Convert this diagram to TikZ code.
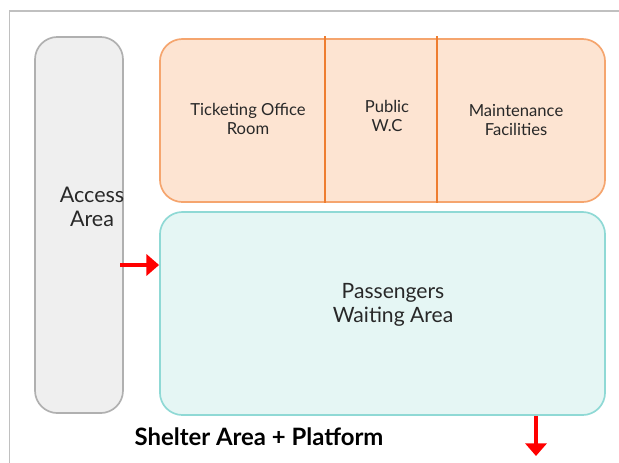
\documentclass[tikz,border=0pt]{standalone}
\usepackage{fontspec}
\setmainfont{Lato}
\usepackage{tikz}
\usetikzlibrary{arrows.meta,calc,positioning}
\definecolor{my_frame}{RGB}{192, 192, 192}
\definecolor{my_gray}{RGB}{239, 239, 239}
\definecolor{my_grayline}{RGB}{176, 176, 176}
\definecolor{my_peach}{RGB}{253, 228, 210}
\definecolor{my_orange}{RGB}{245, 165, 110}
\definecolor{my_darkorange}{RGB}{238, 125, 48}
\definecolor{my_cyan}{RGB}{229, 246, 244}
\definecolor{my_cyanline}{RGB}{143, 217, 213}
\definecolor{my_red}{RGB}{255, 0, 0}
\definecolor{my_text}{RGB}{40, 40, 40}
\tikzset{
  area/.style = {draw, rectangle, rounded corners=16, line width=1.2pt, inner sep=0pt, align=center, text=my_text},
  label_s/.style = {align=center, text=my_text, font=\fontsize{11.8}{13}\selectfont},
  label_l/.style = {align=center, text=my_text, font=\fontsize{15.3}{17.5}\selectfont}
}

\begin{document}
\begin{tikzpicture}[x=0.025cm, y=-0.025cm,
        access/.style={area, draw=my_grayline, fill=my_gray},
        rooms/.style={area, draw=my_orange, fill=my_peach},
        waiting/.style={area, draw=my_cyanline, fill=my_cyan},
        wall/.style={draw=my_darkorange, line width=1pt},
        flow/.style={draw=my_red, line width=2.3pt, -{Triangle[length=9pt,width=15pt]}}]
    \useasboundingbox (0,0) rectangle (619,462);
    % outer frame, cut off at the page edge
    \draw[my_frame, line width=1pt] (9.5,470) |- (630,11);

    % areas
    \node [access, minimum width=2.2cm, minimum height=9.4cm] (access) at (79,225) {};
    \node [rooms, minimum width=11.125cm, minimum height=4.075cm] (services) at (382.5,120.5) {};
    \node [waiting, minimum width=11.125cm, minimum height=5.075cm] (waiting) at (382.5,313.5) {};

    % room walls
    \draw [wall] ($(services.north west)+(166,-2)$) -- ($(services.south west)+(166,0)$);
    \draw [wall] ($(services.north west)+(278,-2)$) -- ($(services.south west)+(278,0)$);

    % labels
    \node [label_l] (accesstext) at (92,207) {Access\\Area};
    \node [label_s] (ticket) at (248,119) {Ticketing Office\\Room};
    \node [label_s] (wc) at (387,116) {Public\\W.C};
    \node [label_s] (maint) at (516,120) {Maintenance\\Facilities};
    \node [label_l, font=\fontsize{15}{17.5}\selectfont] (waittext) at (393,305) {Passengers\\Waiting Area};
    \node [font=\bfseries\fontsize{17}{19}\selectfont, text=black] (title) at (259,437) {Shelter Area + Platform};

    % passenger flow
    \coordinate (in) at (120,265);
    \coordinate (out) at (536,456);
    \draw [flow] (in) -- (waiting.west |- in);
    \draw [flow] (waiting.south -| out) -- (out);
\end{tikzpicture}
\end{document}
